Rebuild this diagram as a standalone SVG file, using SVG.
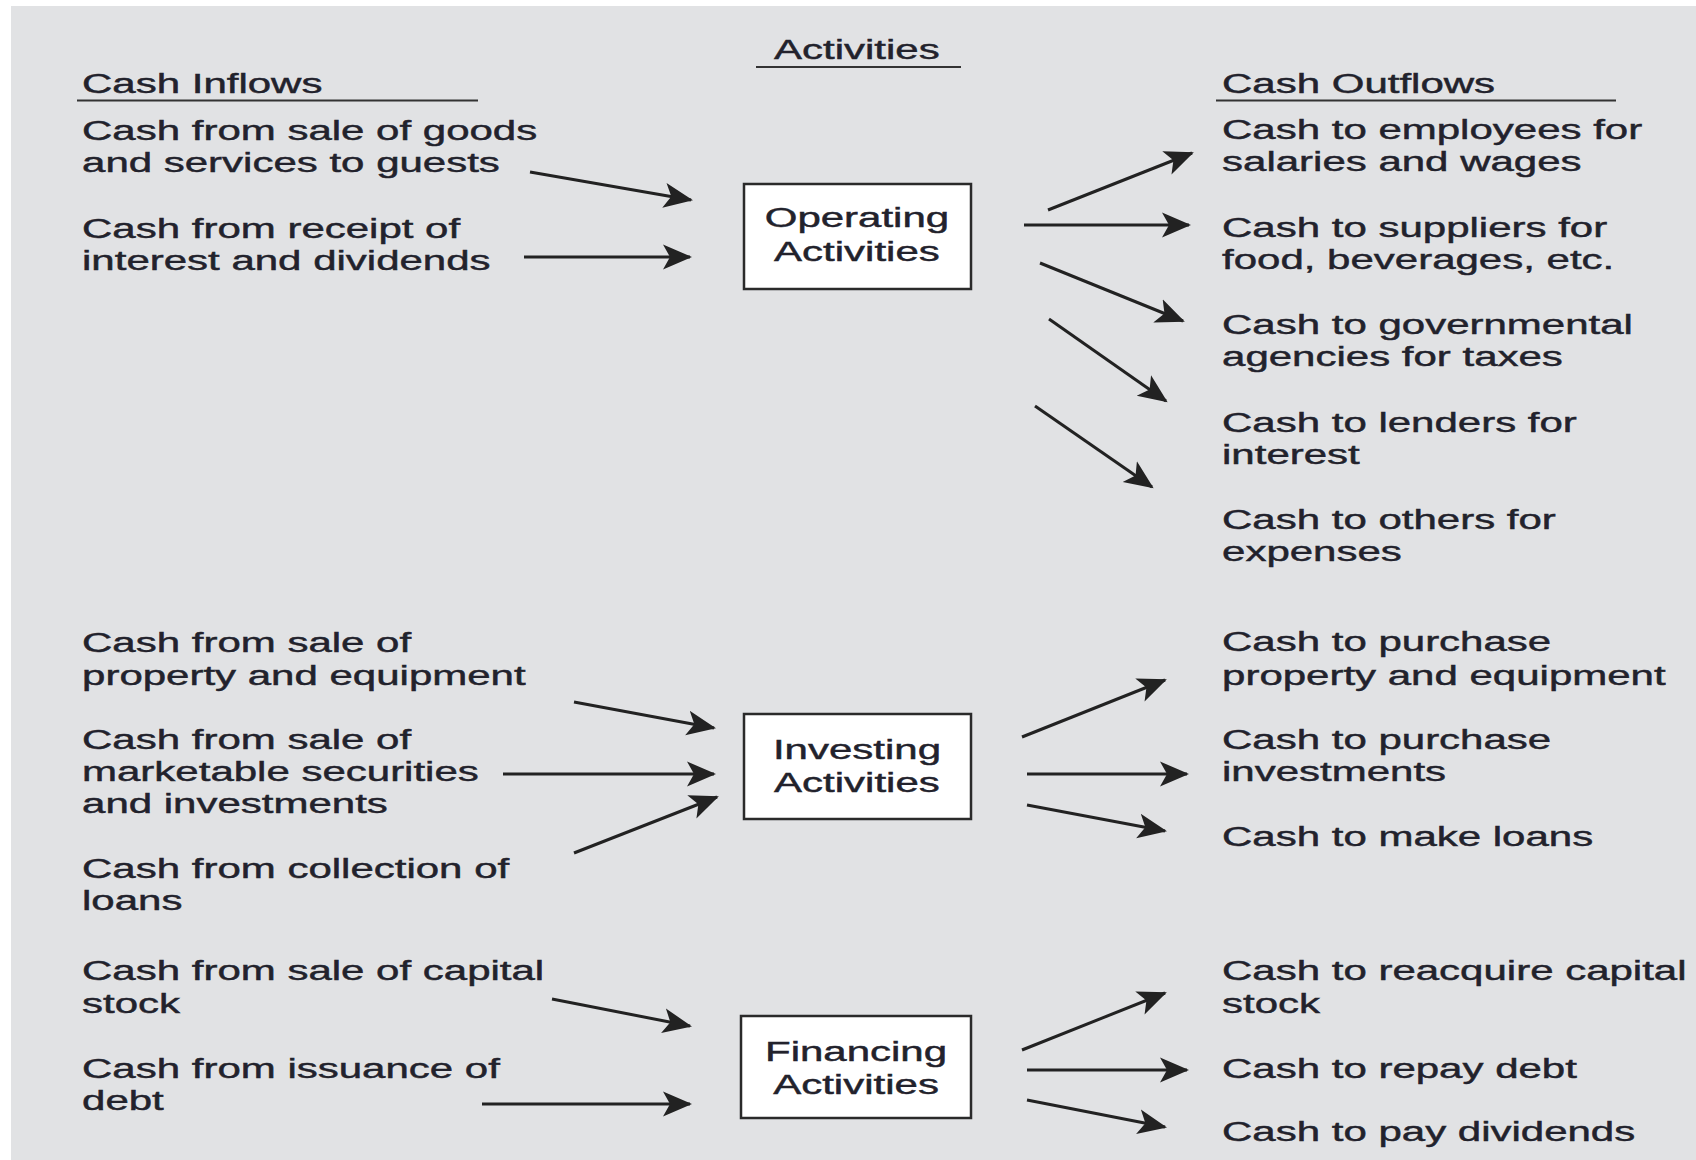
<svg xmlns="http://www.w3.org/2000/svg" width="1696" height="1160" viewBox="0 0 1696 1160">
<style>
.t{font-family:"Liberation Sans",Arial,Helvetica,sans-serif;font-size:28px;fill:#22222c;stroke:#22222c;stroke-width:0.45}
.c{text-anchor:middle}
.box{fill:#ffffff;stroke:#2a2a2a;stroke-width:2.5}
.ul{stroke:#333;stroke-width:2.2}
.ar{stroke:#222;stroke-width:3;fill:none;marker-end:url(#ah)}
</style>
<defs>
<marker id="ah" markerUnits="userSpaceOnUse" markerWidth="30" markerHeight="28" viewBox="0 0 30 28" refX="27" refY="14" orient="auto">
<path d="M0,1.5 L29,14 L0,26.5 L7,14 Z" fill="#222"/>
</marker>
</defs>
<rect x="11" y="6" width="1685" height="1154" fill="#e1e2e4"/>

<g id="headers">
<line class="ul" x1="756" y1="67" x2="961" y2="67"/>
<line class="ul" x1="77" y1="100.5" x2="478" y2="100.5"/>
<line class="ul" x1="1216" y1="100.5" x2="1616" y2="100.5"/>
<g transform="scale(1.5,1)">
<text class="t" x="516" y="59.5">Activities</text>
<text class="t" x="54.7" y="93">Cash Inflows</text>
<text class="t" x="814.7" y="93">Cash Outflows</text>
</g>
</g>

<g id="node-operating">
<rect class="box" x="744" y="184" width="227" height="105"/>
<g transform="scale(1.5,1)">
<text class="t c" x="571.3" y="227.5">Operating</text>
<text class="t c" x="571.3" y="261.5">Activities</text>
</g>
</g>
<g id="node-investing">
<rect class="box" x="744" y="714" width="227" height="105"/>
<g transform="scale(1.5,1)">
<text class="t c" x="571.3" y="759">Investing</text>
<text class="t c" x="571.3" y="792">Activities</text>
</g>
</g>
<g id="node-financing">
<rect class="box" x="741" y="1016" width="230" height="102"/>
<g transform="scale(1.5,1)">
<text class="t c" x="570.7" y="1061">Financing</text>
<text class="t c" x="570.7" y="1094">Activities</text>
</g>
</g>

<g id="inflows" transform="scale(1.5,1)">
<g id="in-op-1"><text class="t" x="54.7" y="140.5">Cash from sale of goods</text><text class="t" x="54.7" y="172">and services to guests</text></g>
<g id="in-op-2"><text class="t" x="54.7" y="238.5">Cash from receipt of</text><text class="t" x="54.7" y="270">interest and dividends</text></g>
<g id="in-inv-1"><text class="t" x="54.7" y="652">Cash from sale of</text><text class="t" x="54.7" y="685">property and equipment</text></g>
<g id="in-inv-2"><text class="t" x="54.7" y="749.5">Cash from sale of</text><text class="t" x="54.7" y="781.5">marketable securities</text><text class="t" x="54.7" y="813.5">and investments</text></g>
<g id="in-inv-3"><text class="t" x="54.7" y="878">Cash from collection of</text><text class="t" x="54.7" y="910">loans</text></g>
<g id="in-fin-1"><text class="t" x="54.7" y="980">Cash from sale of capital</text><text class="t" x="54.7" y="1013">stock</text></g>
<g id="in-fin-2"><text class="t" x="54.7" y="1078">Cash from issuance of</text><text class="t" x="54.7" y="1110">debt</text></g>
</g>

<g id="outflows" transform="scale(1.5,1)">
<g id="out-op-1"><text class="t" x="814.7" y="139">Cash to employees for</text><text class="t" x="814.7" y="171.5">salaries and wages</text></g>
<g id="out-op-2"><text class="t" x="814.7" y="237.5">Cash to suppliers for</text><text class="t" x="814.7" y="269.5">food, beverages, etc.</text></g>
<g id="out-op-3"><text class="t" x="814.7" y="334">Cash to governmental</text><text class="t" x="814.7" y="366">agencies for taxes</text></g>
<g id="out-op-4"><text class="t" x="814.7" y="432.5">Cash to lenders for</text><text class="t" x="814.7" y="464.5">interest</text></g>
<g id="out-op-5"><text class="t" x="814.7" y="529.5">Cash to others for</text><text class="t" x="814.7" y="561">expenses</text></g>
<g id="out-inv-1"><text class="t" x="814.7" y="651.5">Cash to purchase</text><text class="t" x="814.7" y="685">property and equipment</text></g>
<g id="out-inv-2"><text class="t" x="814.7" y="749.5">Cash to purchase</text><text class="t" x="814.7" y="781.5">investments</text></g>
<g id="out-inv-3"><text class="t" x="814.7" y="846">Cash to make loans</text></g>
<g id="out-fin-1"><text class="t" x="814.7" y="980">Cash to reacquire capital</text><text class="t" x="814.7" y="1013">stock</text></g>
<g id="out-fin-2"><text class="t" x="814.7" y="1078">Cash to repay debt</text></g>
<g id="out-fin-3"><text class="t" x="814.7" y="1141.5">Cash to pay dividends</text></g>
</g>

<g id="connectors">
<path class="ar" d="M530,172 L691,200"/>
<path class="ar" d="M524,257 L690,257"/>
<path class="ar" d="M1048,210 L1192,153"/>
<path class="ar" d="M1024,225 L1189,225"/>
<path class="ar" d="M1040,263 L1183,321"/>
<path class="ar" d="M1049,319 L1166,401"/>
<path class="ar" d="M1035,406 L1152,487"/>
<path class="ar" d="M574,702 L714,728"/>
<path class="ar" d="M503,774 L714,774"/>
<path class="ar" d="M574,853 L717,797"/>
<path class="ar" d="M1022,737 L1165,680"/>
<path class="ar" d="M1027,774 L1187,774"/>
<path class="ar" d="M1027,805 L1165,831"/>
<path class="ar" d="M552,999 L690,1026"/>
<path class="ar" d="M482,1104 L690,1104"/>
<path class="ar" d="M1022,1050 L1165,993"/>
<path class="ar" d="M1027,1070 L1187,1070"/>
<path class="ar" d="M1027,1100 L1165,1127"/>
</g>
</svg>
